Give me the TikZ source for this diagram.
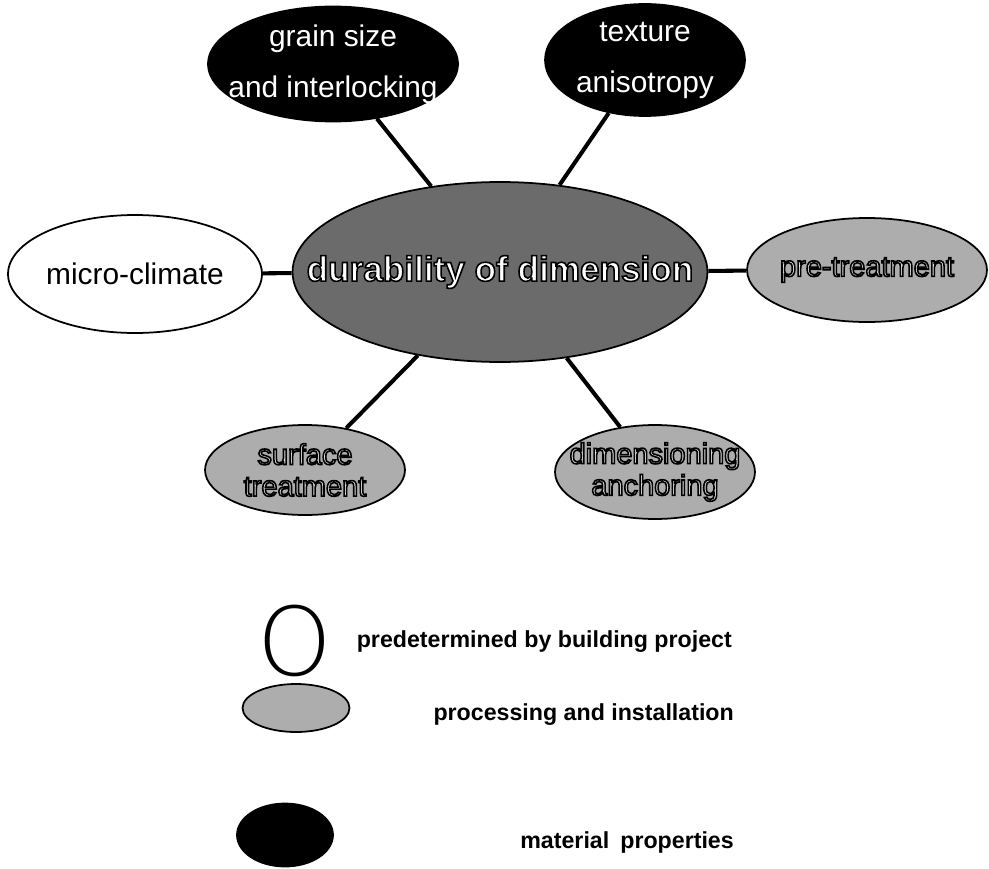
\documentclass[tikz,border=0pt]{standalone}
\usepackage{fontspec}
\setmainfont{Liberation Sans}
\newfontfamily\thinfont{DejaVu Sans ExtraLight}
\usetikzlibrary{shapes.geometric}
\definecolor{dkgray}{gray}{0.42}
\definecolor{ltgray}{gray}{0.68}
% outlined letters: fill and stroke text rendering mode
\newcommand{\outl}[1]{\special{pdf:code direct 2 Tr 0.9 w 0 G}#1\special{pdf:code direct 0 Tr}}

\begin{document}
\begin{tikzpicture}[x=0.02cm, y=-0.02cm,
    factor/.style={ellipse, draw=black, line width=1pt, inner xsep=-1.2cm, inner ysep=-0.4cm, align=center},
    material/.style={factor, fill=black, text=white, font=\fontsize{17}{29}\selectfont},
    process/.style={factor, fill=ltgray, text=white!90!black, font=\fontsize{16.5}{18}\selectfont},
    project/.style={factor, fill=white, font=\fontsize{17}{20}\selectfont},
    link/.style={line width=2.3pt},
    keytext/.style={anchor=east, font=\fontsize{13.2}{15}\selectfont\bfseries}
  ]
    \useasboundingbox (0,0) rectangle (989,868);

    % central factor
    \node[factor, fill=dkgray, text=white, minimum width=8.3cm, minimum height=3.6cm,
          font=\fontsize{20}{24}\selectfont\bfseries] (durability) at (500,272) {\outl{durability of dimension}};

    % influences
    \node[material, minimum width=5cm, minimum height=2.3cm] (grain) at (333,64) {grain size\\and interlocking};
    \node[material, minimum width=4cm, minimum height=2.24cm] (texture) at (645,60) {texture\\anisotropy};
    \node[project, minimum width=5.08cm, minimum height=2.36cm] (climate) at (135,274) {micro-climate};
    \node[process, minimum width=4.8cm, minimum height=2.08cm] (pretreat) at (867,270) {\outl{pre-treatment}};
    \node[process, minimum width=4cm, minimum height=1.8cm] (surface) at (305,470) {\outl{surface}\\\outl{treatment}};
    \node[process, minimum width=4cm, minimum height=1.88cm] (anchor) at (655,472) {\outl{dimensioning}\\\outl{anchoring}};

    \draw[link] (grain) -- (durability);
    \draw[link] (texture) -- (durability);
    \draw[link] (climate) -- (durability);
    \draw[link] (durability) -- (pretreat);
    \draw[link] (durability) -- (surface);
    \draw[link] (durability) -- (anchor);

    % legend
    \node[font=\fontsize{54}{54}\selectfont\thinfont] (keyproject) at (295,641) {O};
    \node[process, minimum width=2.14cm, minimum height=0.96cm] (keyprocess) at (296,708) {};
    \node[material, minimum width=1.92cm, minimum height=1.26cm] (keymaterial) at (285,835) {};

    \node[keytext] (projecttext) at (738,642) {predetermined by building project};
    \node[keytext] (processtext) at (740,715) {processing and installation};
    \node[keytext] (materialtext) at (740,842) {material\hspace{0.2em} properties};
  \end{tikzpicture}
\end{document}
